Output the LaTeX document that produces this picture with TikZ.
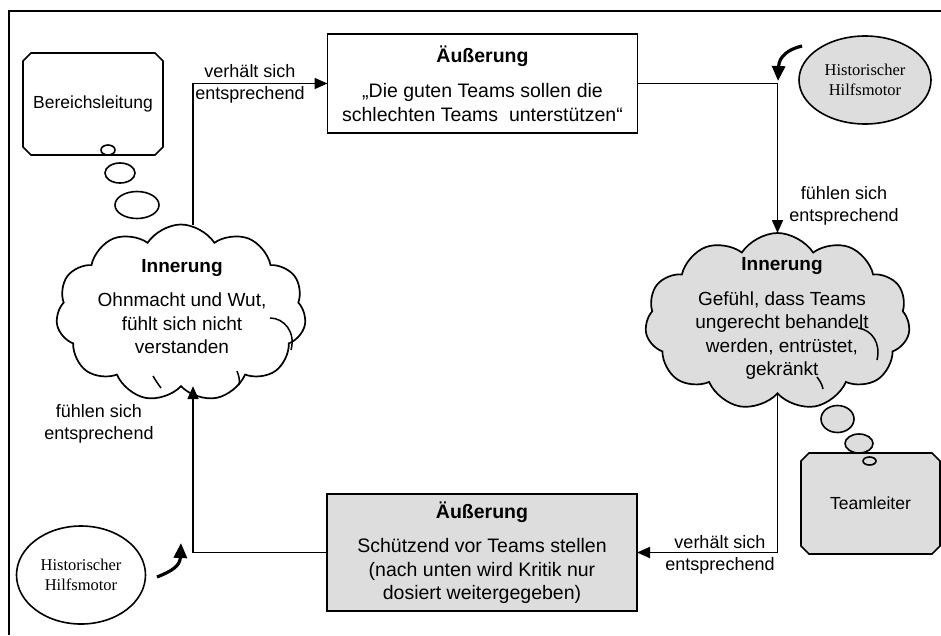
\documentclass[tikz,border=0pt]{standalone}
\usepackage{fontspec}
\setmainfont{Liberation Sans}
\newfontfamily\timesf{Liberation Serif}
\usetikzlibrary{shapes.geometric,shapes.symbols,arrows.meta}
\newcommand{\chambox}[2]{\draw[ln,#2] ([xshift=8pt]#1.north west) -- ([xshift=-8pt]#1.north east) -- ([yshift=-8pt]#1.north east) -- ([yshift=8pt]#1.south east) -- ([xshift=-8pt]#1.south east) -- ([xshift=8pt]#1.south west) -- ([yshift=8pt]#1.south west) -- ([yshift=-8pt]#1.north west) -- cycle;}
\begin{document}
\begin{tikzpicture}[x=1pt,y=-1pt,
  every node/.style={inner sep=0pt, outer sep=0pt},
  ln/.style={line width=1.7pt},
  thin/.style={line width=1.5pt},
  arr/.style={ln, -{Triangle[length=13pt,width=11pt]}},
  box/.style={draw, line width=1.7pt, minimum width=310pt, align=center, font=\fontsize{19.5}{23.5}\selectfont},
  gfill/.style={fill=gray!27},
  txt/.style={align=center, font=\fontsize{19}{23.5}\selectfont},
  lab/.style={align=center, font=\fontsize{18}{22}\selectfont},
  ptxt/.style={font=\fontsize{17.5}{21}\selectfont},
  puff/.style={draw, ellipse, line width=1.6pt},
  cloudshape/.style={draw, cloud, cloud puffs=11, cloud puff arc=115, cloud ignores aspect, line width=1.7pt},
  motor/.style={draw, ellipse, line width=1.6pt, align=center, font=\timesf\fontsize{16.5}{20.5}\selectfont},
  bent/.style={line width=3.2pt, -{Triangle[length=15pt,width=13pt]}}
]
\useasboundingbox (0,0) rectangle (941,635);
\draw[ln] (9,635) -- (9,11) -- (941,11);

% boxes
\node[box, minimum height=99pt] (top) at (482.5,83.5)
  {\textbf{Äußerung}\\[12pt]„Die guten Teams sollen die\\schlechten Teams\ \ unterstützen“};
\node[box, gfill, minimum height=117pt] (bot) at (482,552.5)
  {\textbf{Äußerung}\\[11pt]Schützend vor Teams stellen\\(nach unten wird Kritik nur\\dosiert weitergegeben)};

% persons
\node[minimum width=140pt, minimum height=102pt] (bl) at (93,104) {};
\chambox{bl}{fill=white}
\node[ptxt] (blt) at (bl) {Bereichsleitung};
\node[minimum width=139pt, minimum height=101pt] (tl) at (870.5,503.5) {};
\chambox{tl}{fill=gray!27}
\node[ptxt] (tlt) at (tl) {Teamleiter};

% thought bubbles
\node[puff, fill=white, minimum width=14pt, minimum height=10pt] (b1) at (108,150) {};
\node[puff, minimum width=30pt, minimum height=20pt] (b2) at (120,173) {};
\node[puff, minimum width=44pt, minimum height=27pt] (b3) at (137,205) {};
\node[puff, gfill, minimum width=33pt, minimum height=27pt] (r1) at (837.5,419) {};
\node[puff, gfill, minimum width=28pt, minimum height=19pt] (r2) at (859,443.5) {};
\node[puff, gfill, minimum width=13pt, minimum height=8pt] (r3) at (869.5,461) {};

% clouds
\node[cloudshape, minimum width=250pt, minimum height=177pt] (lc) at (181,313) {};
\node[cloudshape, gfill, minimum width=265pt, minimum height=177pt] (rc) at (777.5,321.5) {};
% inner arcs of the clouds
\draw[thin] (270,318) .. controls (284,318) and (296,332) .. (291,350);
\draw[thin] (153,376) .. controls (156,381) and (158,384) .. (161,388);
\draw[thin] (237,371) .. controls (239,376) and (240,380) .. (239,385);
\draw[thin] (858,328) .. controls (872,330) and (881,343) .. (877,360);
\draw[thin] (817,377) .. controls (820,381) and (822,384) .. (823,389);
\node[txt] (lct) at (182,306.5) {\textbf{Innerung}\\[11pt]Ohnmacht und Wut,\\fühlt sich nicht\\verstanden};
\node[txt] (rct) at (782,318.5) {\textbf{Innerung}\\[11pt]Gefühl, dass Teams\\ungerecht behandelt\\werden, entrüstet,\\gekränkt};

% motors
\node[motor, gfill, minimum width=132pt, minimum height=88pt] (hm1) at (865,80) {Historischer\\Hilfsmotor};
\node[motor, fill=white, minimum width=129pt, minimum height=98pt] (hm2) at (81,575) {Historischer\\Hilfsmotor};
\coordinate (m1s) at (802,46);
\coordinate (m1e) at (778,81);
\coordinate (m2s) at (157,577);
\coordinate (m2e) at (181,543);
\draw[bent] (m1s) .. controls (789,49) and (779,56) .. (m1e);
\draw[bent] (m2s) .. controls (172,571) and (180,566) .. (m2e);

% connectors
\coordinate (lx) at (193,0);
\draw[arr] (lc.north -| lx) |- (top.west);
\draw[arr] (top.east) -| (rc.north);
\draw[arr] (rc.south) |- (bot.east);
\draw[arr] (bot.west) -| (lc.south -| lx);

% labels
\node[lab] (l1) at (250,84) {verhält sich\\entsprechend};
\node[lab] (l2) at (844,206) {fühlen sich\\entsprechend};
\node[lab] (l3) at (720,555) {verhält sich\\entsprechend};
\node[lab] (l4) at (99,423.5) {fühlen sich\\entsprechend};
\end{tikzpicture}
\end{document}
